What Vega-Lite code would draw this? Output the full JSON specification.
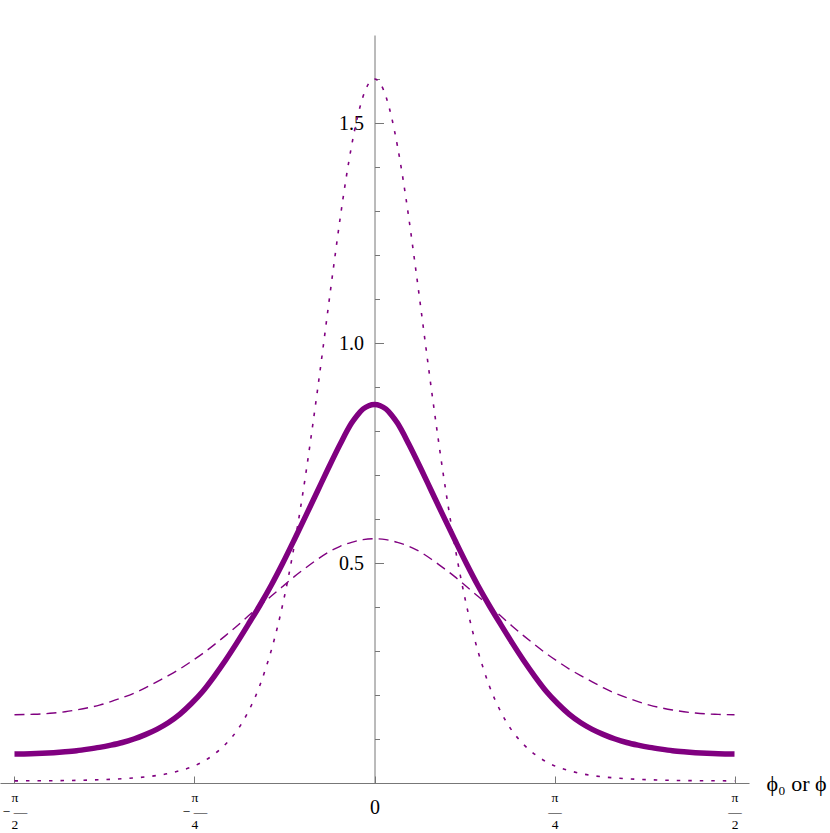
{
  "$schema": "https://vega.github.io/schema/vega-lite/v6.json",
  "width": 749,
  "height": 748,
  "padding": {"left": 0, "top": 35, "right": 0, "bottom": 0},
  "autosize": {"type": "pad"},
  "background": "white",
  "config": {"view": {"stroke": null}, "axis": {"grid": false}},
  "datasets": {
    "solid": [
      {"phi": -1.5708, "y": 0.066}, {"phi": -1.5, "y": 0.0665}, {"phi": -1.45, "y": 0.0675}, {"phi": -1.4, "y": 0.069}, {"phi": -1.35, "y": 0.071}, {"phi": -1.3, "y": 0.0735}, {"phi": -1.25, "y": 0.077}, {"phi": -1.2, "y": 0.081}, {"phi": -1.15, "y": 0.086}, {"phi": -1.1, "y": 0.092}, {"phi": -1.05, "y": 0.1}, {"phi": -1.0, "y": 0.11}, {"phi": -0.95, "y": 0.122}, {"phi": -0.9, "y": 0.137}, {"phi": -0.85, "y": 0.156}, {"phi": -0.8, "y": 0.18}, {"phi": -0.75, "y": 0.208}, {"phi": -0.7, "y": 0.242}, {"phi": -0.65, "y": 0.279}, {"phi": -0.6, "y": 0.319}, {"phi": -0.55, "y": 0.361}, {"phi": -0.5, "y": 0.404}, {"phi": -0.45, "y": 0.45}, {"phi": -0.4, "y": 0.5}, {"phi": -0.35, "y": 0.553}, {"phi": -0.3, "y": 0.607}, {"phi": -0.25, "y": 0.662}, {"phi": -0.2, "y": 0.717}, {"phi": -0.15, "y": 0.77}, {"phi": -0.1, "y": 0.818}, {"phi": -0.075, "y": 0.836}, {"phi": -0.05, "y": 0.85}, {"phi": -0.025, "y": 0.8575},
      {"phi": 0, "y": 0.86},
      {"phi": 0.025, "y": 0.8575}, {"phi": 0.05, "y": 0.85}, {"phi": 0.075, "y": 0.836}, {"phi": 0.1, "y": 0.818}, {"phi": 0.15, "y": 0.77}, {"phi": 0.2, "y": 0.717}, {"phi": 0.25, "y": 0.662}, {"phi": 0.3, "y": 0.607}, {"phi": 0.35, "y": 0.553}, {"phi": 0.4, "y": 0.5}, {"phi": 0.45, "y": 0.45}, {"phi": 0.5, "y": 0.404}, {"phi": 0.55, "y": 0.361}, {"phi": 0.6, "y": 0.319}, {"phi": 0.65, "y": 0.279}, {"phi": 0.7, "y": 0.242}, {"phi": 0.75, "y": 0.208}, {"phi": 0.8, "y": 0.18}, {"phi": 0.85, "y": 0.156}, {"phi": 0.9, "y": 0.137}, {"phi": 0.95, "y": 0.122}, {"phi": 1.0, "y": 0.11}, {"phi": 1.05, "y": 0.1}, {"phi": 1.1, "y": 0.092}, {"phi": 1.15, "y": 0.086}, {"phi": 1.2, "y": 0.081}, {"phi": 1.25, "y": 0.077}, {"phi": 1.3, "y": 0.0735}, {"phi": 1.35, "y": 0.071}, {"phi": 1.4, "y": 0.069}, {"phi": 1.45, "y": 0.0675}, {"phi": 1.5, "y": 0.0665}, {"phi": 1.5708, "y": 0.066}
    ],
    "dashed": [
      {"phi": -1.5708, "y": 0.155}, {"phi": -1.5, "y": 0.156}, {"phi": -1.45, "y": 0.157}, {"phi": -1.4, "y": 0.159}, {"phi": -1.35, "y": 0.162}, {"phi": -1.3, "y": 0.166}, {"phi": -1.25, "y": 0.171}, {"phi": -1.2, "y": 0.177}, {"phi": -1.15, "y": 0.185}, {"phi": -1.1, "y": 0.194}, {"phi": -1.05, "y": 0.204}, {"phi": -1.0, "y": 0.216}, {"phi": -0.95, "y": 0.23}, {"phi": -0.9, "y": 0.244}, {"phi": -0.85, "y": 0.259}, {"phi": -0.8, "y": 0.276}, {"phi": -0.75, "y": 0.294}, {"phi": -0.7, "y": 0.314}, {"phi": -0.65, "y": 0.335}, {"phi": -0.6, "y": 0.357}, {"phi": -0.55, "y": 0.38}, {"phi": -0.5, "y": 0.403}, {"phi": -0.45, "y": 0.425}, {"phi": -0.4, "y": 0.447}, {"phi": -0.35, "y": 0.469}, {"phi": -0.3, "y": 0.489}, {"phi": -0.25, "y": 0.508}, {"phi": -0.2, "y": 0.525}, {"phi": -0.15, "y": 0.538}, {"phi": -0.1, "y": 0.547}, {"phi": -0.05, "y": 0.553},
      {"phi": 0, "y": 0.555},
      {"phi": 0.05, "y": 0.553}, {"phi": 0.1, "y": 0.547}, {"phi": 0.15, "y": 0.538}, {"phi": 0.2, "y": 0.525}, {"phi": 0.25, "y": 0.508}, {"phi": 0.3, "y": 0.489}, {"phi": 0.35, "y": 0.469}, {"phi": 0.4, "y": 0.447}, {"phi": 0.45, "y": 0.425}, {"phi": 0.5, "y": 0.403}, {"phi": 0.55, "y": 0.38}, {"phi": 0.6, "y": 0.357}, {"phi": 0.65, "y": 0.335}, {"phi": 0.7, "y": 0.314}, {"phi": 0.75, "y": 0.294}, {"phi": 0.8, "y": 0.276}, {"phi": 0.85, "y": 0.259}, {"phi": 0.9, "y": 0.244}, {"phi": 0.95, "y": 0.23}, {"phi": 1.0, "y": 0.216}, {"phi": 1.05, "y": 0.204}, {"phi": 1.1, "y": 0.194}, {"phi": 1.15, "y": 0.185}, {"phi": 1.2, "y": 0.177}, {"phi": 1.25, "y": 0.171}, {"phi": 1.3, "y": 0.166}, {"phi": 1.35, "y": 0.162}, {"phi": 1.4, "y": 0.159}, {"phi": 1.45, "y": 0.157}, {"phi": 1.5, "y": 0.156}, {"phi": 1.5708, "y": 0.155}
    ],
    "dotted": [
      {"phi": -1.5708, "y": 0.0049}, {"phi": -1.5, "y": 0.005}, {"phi": -1.4, "y": 0.0053}, {"phi": -1.3, "y": 0.006}, {"phi": -1.2, "y": 0.0074}, {"phi": -1.1, "y": 0.0098}, {"phi": -1.0, "y": 0.0138}, {"phi": -0.9, "y": 0.0215}, {"phi": -0.85, "y": 0.028}, {"phi": -0.8, "y": 0.036}, {"phi": -0.75, "y": 0.048}, {"phi": -0.7, "y": 0.065}, {"phi": -0.65, "y": 0.088}, {"phi": -0.6, "y": 0.119}, {"phi": -0.55, "y": 0.163}, {"phi": -0.5, "y": 0.222}, {"phi": -0.475, "y": 0.26}, {"phi": -0.45, "y": 0.302}, {"phi": -0.425, "y": 0.351}, {"phi": -0.4, "y": 0.407}, {"phi": -0.375, "y": 0.47}, {"phi": -0.35, "y": 0.54}, {"phi": -0.325, "y": 0.618}, {"phi": -0.3, "y": 0.702}, {"phi": -0.275, "y": 0.793}, {"phi": -0.25, "y": 0.888}, {"phi": -0.225, "y": 0.987}, {"phi": -0.2, "y": 1.088}, {"phi": -0.175, "y": 1.187}, {"phi": -0.15, "y": 1.283}, {"phi": -0.125, "y": 1.371}, {"phi": -0.1, "y": 1.448}, {"phi": -0.075, "y": 1.512}, {"phi": -0.05, "y": 1.56}, {"phi": -0.025, "y": 1.59},
      {"phi": 0, "y": 1.6},
      {"phi": 0.025, "y": 1.59}, {"phi": 0.05, "y": 1.56}, {"phi": 0.075, "y": 1.512}, {"phi": 0.1, "y": 1.448}, {"phi": 0.125, "y": 1.371}, {"phi": 0.15, "y": 1.283}, {"phi": 0.175, "y": 1.187}, {"phi": 0.2, "y": 1.088}, {"phi": 0.225, "y": 0.987}, {"phi": 0.25, "y": 0.888}, {"phi": 0.275, "y": 0.793}, {"phi": 0.3, "y": 0.702}, {"phi": 0.325, "y": 0.618}, {"phi": 0.35, "y": 0.54}, {"phi": 0.375, "y": 0.47}, {"phi": 0.4, "y": 0.407}, {"phi": 0.425, "y": 0.351}, {"phi": 0.45, "y": 0.302}, {"phi": 0.475, "y": 0.26}, {"phi": 0.5, "y": 0.222}, {"phi": 0.55, "y": 0.163}, {"phi": 0.6, "y": 0.119}, {"phi": 0.65, "y": 0.088}, {"phi": 0.7, "y": 0.065}, {"phi": 0.75, "y": 0.048}, {"phi": 0.8, "y": 0.036}, {"phi": 0.85, "y": 0.028}, {"phi": 0.9, "y": 0.0215}, {"phi": 1.0, "y": 0.0138}, {"phi": 1.1, "y": 0.0098}, {"phi": 1.2, "y": 0.0074}, {"phi": 1.3, "y": 0.006}, {"phi": 1.4, "y": 0.0053}, {"phi": 1.5, "y": 0.005}, {"phi": 1.5708, "y": 0.0049}
    ]
  },
  "encoding": {
    "x": {
      "field": "phi",
      "type": "quantitative",
      "scale": {"domain": [-1.634, 1.634], "nice": false, "zero": false},
      "axis": {
        "values": [-1.5707963, -0.7853982, 0, 0.7853982, 1.5707963],
        "labelExpr": "datum.value < -1 ? ['\u2002\u00a0π', '−\u00a0—', '\u2002\u00a02'] : datum.value < -0.1 ? ['\u2002\u00a0π', '−\u00a0—', '\u2002\u00a04'] : datum.value > 1 ? ['π', '—', '2'] : datum.value > 0.1 ? ['π', '—', '4'] : '0'",
        "labelFont": "Liberation Serif, Times New Roman, DejaVu Serif, serif",
        "labelFontSize": {"condition": {"test": "datum.value == 0", "value": 20}, "value": 13.5},
        "labelLineHeight": 13.5,
        "labelBaseline": "middle",
        "labelPadding": {"condition": {"test": "datum.value == 0", "value": 31.5}, "value": 21.5},
        "labelFlush": false,
        "labelOverlap": false,
        "labelBound": false,
        "labelColor": "black",
        "tickSize": -7,
        "tickColor": "#777777",
        "domainColor": "#777777",
        "title": "ϕ₀ or ϕ",
        "titleFont": "Liberation Serif, Times New Roman, DejaVu Serif, serif",
        "titleFontSize": 22,
        "titleFontWeight": "normal",
        "titleColor": "black",
        "titleX": 766,
        "titleY": 7,
        "titleAlign": "left",
        "titleBaseline": "alphabetic",
        "titleAngle": 0
      }
    },
    "y": {
      "field": "y",
      "type": "quantitative",
      "scale": {"domain": [0, 1.7], "nice": false, "zero": true},
      "axis": {
        "values": [0.1, 0.2, 0.3, 0.4, 0.5, 0.6, 0.7, 0.8, 0.9, 1.0, 1.1, 1.2, 1.3, 1.4, 1.5, 1.6],
        "labelExpr": "datum.value == 0.5 ? '0.5' : datum.value == 1 ? '1.0' : datum.value == 1.5 ? '1.5' : ''",
        "offset": -374.5,
        "tickSize": {"condition": {"test": "datum.value == 0.5 || datum.value == 1 || datum.value == 1.5", "value": -9}, "value": -5},
        "labelFont": "Liberation Serif, Times New Roman, DejaVu Serif, serif",
        "labelFontSize": 20,
        "labelPadding": 20,
        "labelColor": "black",
        "labelOverlap": false,
        "labelFlush": false,
        "tickColor": "#777777",
        "domainColor": "#777777",
        "title": null
      }
    }
  },
  "layer": [
    {
      "data": {"name": "dashed"},
      "mark": {"type": "line", "color": "#800080", "strokeWidth": 1.4, "strokeDash": [10, 6], "interpolate": "monotone"}
    },
    {
      "data": {"name": "dotted"},
      "mark": {"type": "line", "color": "#800080", "strokeWidth": 1.6, "strokeDash": [3.5, 8], "interpolate": "monotone"}
    },
    {
      "data": {"name": "solid"},
      "mark": {"type": "line", "color": "#800080", "strokeWidth": 5.5, "interpolate": "monotone"}
    }
  ]
}
